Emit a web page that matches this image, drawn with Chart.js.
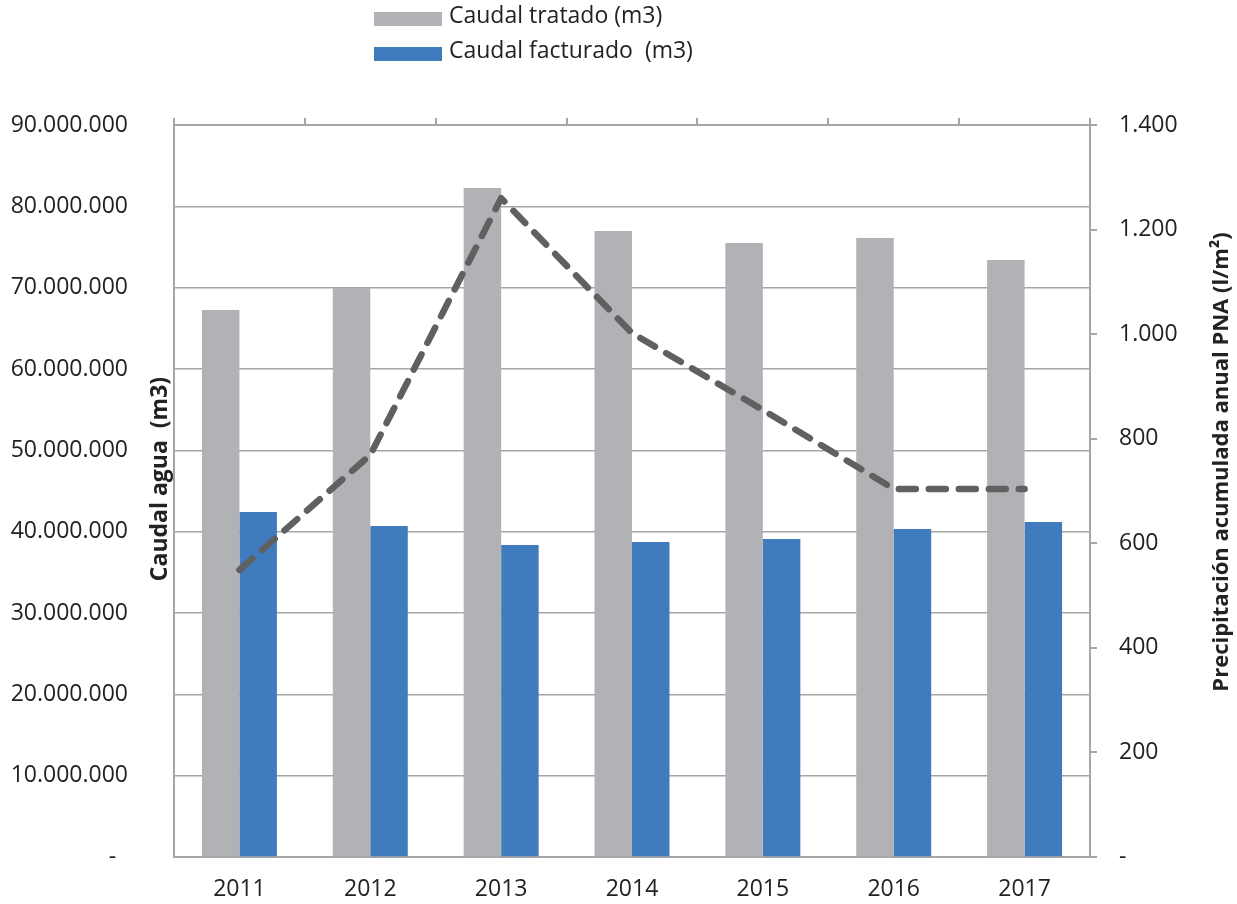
<!DOCTYPE html>
<html>
<head>
<meta charset="utf-8">
<script src="https://cdn.jsdelivr.net/npm/chart.js@4"></script>
<style>
  body { margin: 0; background: #fff; }
  #wrap { position: relative; width: 1237px; height: 904px; }
  .leg { position: absolute; left: 374px; font: 23px 'Open Sans', sans-serif; color: #222; white-space: pre; }
  .leg span { position: absolute; left: 0; width: 68px; height: 14px; }
  .leg b { position: absolute; left: 75px; font-weight: normal; }
</style>
</head>
<body>
<div id="wrap">
  <canvas id="chart" width="1237" height="904"></canvas>
  <div class="leg" style="top:4px"><span style="top:8px;background:#b1b2b6"></span><b style="top:-6px">Caudal tratado (m3)</b></div>
  <div class="leg" style="top:39px"><span style="top:8px;background:#3f7bbd"></span><b style="top:-6px">Caudal facturado  (m3)</b></div>
</div>
<script>
var years = ["2011", "2012", "2013", "2014", "2015", "2016", "2017"];
var caudalTratado = [67250000, 69950000, 82260000, 76970000, 75490000, 76110000, 73400000];
var caudalFacturado = [42420000, 40700000, 38360000, 38730000, 39100000, 40330000, 41190000];
var precipitacion = [549, 769, 1260, 1002, 855, 704, 704];

var fam = "'Open Sans', sans-serif";
Chart.defaults.font.family = fam;
Chart.defaults.color = '#222';

function fmt(v) {
  if (v === 0) return '-  ';
  return v.toLocaleString('de-DE');
}

// axis titles drawn by hand, Excel puts them oddly
var axisTitles = {
  id: 'axisTitles',
  afterDraw: function(chart) {
    var ctx = chart.ctx;
    ctx.save();
    ctx.fillStyle = '#222';
    ctx.font = 'bold 23px ' + fam;
    ctx.textAlign = 'center';
    ctx.textBaseline = 'middle';
    ctx.translate(160, 479);
    ctx.rotate(-Math.PI / 2);
    ctx.fillText('Caudal agua  (m3)', 0, 0);
    ctx.restore();

    ctx.save();
    ctx.fillStyle = '#222';
    ctx.font = 'bold 22px ' + fam;
    ctx.textAlign = 'center';
    ctx.textBaseline = 'middle';
    ctx.translate(1222, 462);
    ctx.rotate(-Math.PI / 2);
    ctx.fillText('Precipitación acumulada anual PNA (l/m²)', 0, 0);
    ctx.restore();
  }
};

var config = {
  type: 'bar',
  data: {
    labels: years,
    datasets: [{
      type: 'line',
      label: 'PNA',
      data: precipitacion,
      yAxisID: 'y2',
      borderColor: '#606060',
      borderWidth: 6.5,
      borderDash: [17, 13],
      borderCapStyle: 'round',
      borderJoinStyle: 'round',
      pointRadius: 0,
      fill: false,
      tension: 0,
      order: 0
    }, {
      label: 'Caudal tratado (m3)',
      data: caudalTratado,
      backgroundColor: '#b1b2b6',
      yAxisID: 'y',
      order: 1
    }, {
      label: 'Caudal facturado  (m3)',
      data: caudalFacturado,
      backgroundColor: '#3f7bbd',
      yAxisID: 'y',
      order: 1
    }]
  },
  options: {
    responsive: false,
    animation: false,
    layout: { padding: 0 },
    categoryPercentage: 0.573,
    barPercentage: 1.0,
    plugins: {
      legend: { display: false },
      tooltip: { enabled: false }
    },
    scales: {
      x: {
        position: 'bottom',
        grid: { display: true, drawOnChartArea: false, drawTicks: false },
        border: { display: true, color: '#a6a6a6', width: 2 },
        ticks: { font: { size: 23 }, padding: 19 },
        afterFit: function(s) { s.height = 47; }
      },
      xTop: {
        position: 'top',
        type: 'category',
        labels: years,
        offset: true,
        grid: { offset: true, drawOnChartArea: false, tickLength: 7, color: '#a6a6a6', lineWidth: 2 },
        border: { display: true, color: '#a6a6a6', width: 2 },
        ticks: { display: false },
        afterFit: function(s) { s.height = 125; }
      },
      y: {
        position: 'left',
        min: 0,
        max: 90000000,
        // big gap between labels and axis done with invisible tick marks
        ticks: { stepSize: 10000000, font: { size: 23 }, padding: 0, callback: fmt },
        grid: { color: '#a6a6a6', lineWidth: 1.5, tickLength: 46, tickColor: 'rgba(0,0,0,0)' },
        border: { display: true, color: '#a6a6a6', width: 2 },
        afterFit: function(s) { s.width = 174; }
      },
      y2: {
        position: 'right',
        min: 0,
        max: 1400,
        ticks: { stepSize: 200, font: { size: 23 }, padding: 22, callback: fmt },
        grid: { drawOnChartArea: false, tickLength: 7, color: '#a6a6a6', lineWidth: 2 },
        border: { display: true, color: '#a6a6a6', width: 2 },
        afterFit: function(s) { s.width = 147; }
      }
    }
  },
  plugins: [axisTitles]
};

new Chart(document.getElementById('chart').getContext('2d'), config);
</script>
</body>
</html>
